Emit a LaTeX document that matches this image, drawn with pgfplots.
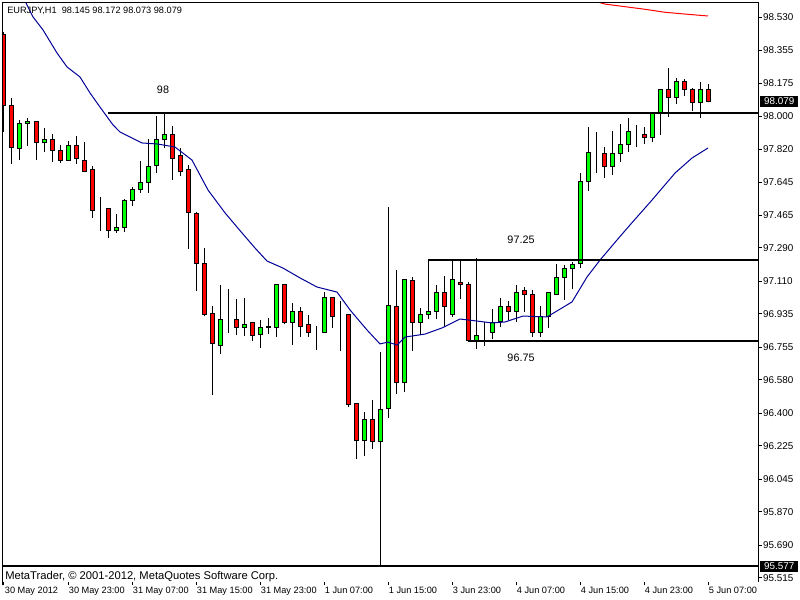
\documentclass[border=0pt]{standalone}
\usepackage{fontspec}
\setmainfont{Liberation Sans}
\usepackage{pgfplots}
\usepackage{pgfplotstable}
\pgfplotsset{compat=1.18}
\definecolor{mtgreen}{RGB}{0,255,0}
\definecolor{mtred}{RGB}{255,0,0}
\definecolor{mtblue}{RGB}{0,0,150}
\newcommand\mtfont{\fontsize{6.9pt}{8pt}\selectfont}
\newcommand\pfont{\fontsize{7.4pt}{8.5pt}\selectfont}
\newcommand\objfont{\fontsize{8.1pt}{9.5pt}\selectfont}
\newcommand\cfont{\fontsize{8.4pt}{9.8pt}\selectfont}

\pgfplotstableread{
j o h l c
0 98.436 98.452 97.914 98.059
1 98.054 98.097 97.742 97.828
2 97.823 97.979 97.763 97.962
3 97.962 97.989 97.839 97.973
4 97.973 97.973 97.763 97.855
5 97.855 97.936 97.806 97.876
6 97.876 97.903 97.753 97.812
7 97.817 97.844 97.747 97.763
8 97.763 97.866 97.758 97.844
9 97.844 97.892 97.742 97.769
10 97.763 97.860 97.699 97.704
11 97.710 97.731 97.451 97.494
12 97.494 97.564 97.382 97.494
13 97.500 97.500 97.344 97.382
14 97.382 97.473 97.371 97.398
15 97.398 97.554 97.376 97.543
16 97.543 97.618 97.516 97.607
17 97.607 97.758 97.586 97.640
18 97.645 97.876 97.586 97.726
19 97.736 98.000 97.693 97.876
20 97.876 98.016 97.828 97.903
21 97.903 97.946 97.656 97.769
22 97.785 97.828 97.677 97.704
23 97.710 97.736 97.285 97.479
24 97.473 97.484 97.059 97.204
25 97.204 97.290 96.924 96.930
26 96.935 96.978 96.499 96.774
27 96.768 97.091 96.720 96.908
28 96.908 97.070 96.833 96.908
29 96.908 97.016 96.822 96.865
30 96.865 97.021 96.817 96.881
31 96.887 96.892 96.790 96.822
32 96.827 96.903 96.752 96.860
33 96.860 96.913 96.827 96.870
34 96.865 97.096 96.811 97.091
35 97.091 97.096 96.881 96.887
36 96.887 96.994 96.768 96.951
37 96.951 96.973 96.811 96.870
38 96.876 96.930 96.811 96.838
39 96.843 96.870 96.741 96.843
40 96.838 97.053 96.838 97.026
41 97.026 97.026 96.860 96.919
42 96.919 97.005 96.735 96.919
43 96.930 96.930 96.435 96.446
44 96.456 96.456 96.155 96.257
45 96.257 96.408 96.171 96.365
46 96.365 96.472 96.209 96.247
47 96.247 96.731 95.577 96.419
48 96.424 97.511 96.376 96.983
49 96.978 97.172 96.505 96.569
50 96.569 97.118 96.515 97.118
51 97.113 97.134 96.736 96.887
52 96.887 96.967 96.822 96.930
53 96.930 97.225 96.908 96.951
54 96.946 97.091 96.908 97.048
55 97.053 97.139 96.865 96.973
56 96.930 97.225 96.919 97.123
57 97.107 97.225 97.016 97.091
58 97.091 97.107 96.790 96.790
59 96.790 97.236 96.747 96.817
60 96.822 96.892 96.763 96.822
61 96.833 96.962 96.800 96.887
62 96.892 97.021 96.865 96.973
63 96.973 97.005 96.903 96.946
64 96.946 97.091 96.892 97.053
65 97.059 97.080 96.946 97.042
66 97.042 97.064 96.811 96.833
67 96.833 96.978 96.811 96.919
68 96.924 97.053 96.860 97.048
69 97.042 97.204 97.042 97.134
70 97.134 97.199 97.010 97.182
71 97.182 97.215 97.070 97.199
72 97.204 97.693 97.182 97.650
73 97.650 97.941 97.597 97.806
74 97.806 97.914 97.693 97.806
75 97.801 97.833 97.667 97.726
76 97.731 97.919 97.683 97.801
77 97.801 97.957 97.753 97.849
78 97.849 97.989 97.806 97.914
79 97.914 97.952 97.833 97.914
80 97.898 97.941 97.849 97.887
81 97.887 98.011 97.860 98.011
82 98.011 98.140 97.898 98.140
83 98.140 98.258 97.995 98.102
84 98.102 98.204 98.065 98.183
85 98.183 98.199 98.108 98.145
86 98.145 98.151 98.027 98.075
87 98.075 98.183 97.989 98.140
88 98.145 98.172 98.073 98.079
}\candles

\pgfplotstableread{
j p
2.25 98.651
3.625 98.533
4.875 98.463
6.625 98.339
7.875 98.264
9.5 98.210
10.75 98.124
12 98.048
13.625 97.952
14.5 97.914
15.75 97.887
17.25 97.855
19.25 97.849
21.375 97.833
23.5 97.763
25.5 97.602
27.625 97.479
29.75 97.371
31.375 97.290
32.875 97.220
34.875 97.182
37 97.129
39.125 97.080
41.625 97.053
43.25 96.957
45.375 96.849
47 96.774
48 96.784
49.125 96.768
50.125 96.811
52.625 96.827
54.75 96.860
57 96.908
58 96.903
61 96.887
62.625 96.892
64.875 96.924
67.875 96.919
71 97.000
72.875 97.134
74.5 97.225
76.625 97.333
78.25 97.414
81 97.548
83.875 97.693
86 97.774
88 97.828
}\maslow

\pgfplotstableread{
j p
74.25 98.613
75.125 98.602
77.625 98.588
80.125 98.574
82.625 98.558
85.5 98.547
88 98.538
}\malong

\pgfplotsset{mtframe/.style={at={(0,0)}, anchor=south west, scale only axis,
  width=567pt, height=434.25pt,
  xmin=-0.1625, xmax=94.3375, ymin=95.4934, ymax=98.6079,
  clip mode=individual}}

\begin{document}
\begin{tikzpicture}
% layer 1: ticks, labels, wicks
\begin{axis}[mtframe,
  axis x line*=bottom, axis y line*=right, axis line style={draw=none},
  xtick={0,8,...,88},
  xticklabels={30 May 2012,30 May 23:00,31 May 07:00,31 May 15:00,31 May 23:00,1 Jun 07:00,1 Jun 15:00,3 Jun 23:00,4 Jun 07:00,4 Jun 15:00,4 Jun 23:00,5 Jun 07:00},
  ytick={95.515,95.690,95.870,96.045,96.225,96.400,96.580,96.755,96.935,97.110,97.290,97.465,97.645,97.820,98.000,98.175,98.355,98.530},
  yticklabels={95.515,95.690,95.870,96.045,96.225,96.400,96.580,96.755,96.935,97.110,97.290,97.465,97.645,97.820,98.000,98.175,98.355,98.530},
  tick align=outside, major tick length=2.6pt,
  tick style={black, line width=0.75pt},
  xticklabel style={anchor=north west, inner sep=0pt, xshift=0.5pt, yshift=-1.2pt, font=\mtfont},
  yticklabel style={anchor=west, inner sep=0pt, xshift=0.5pt, font=\pfont},
]
\addplot[only marks, mark=*, mark size=0pt, mark options={draw=none, fill=none},
  error bars/.cd, y dir=plus, y explicit, error mark=none,
  error bar style={draw=black, line width=0.75pt}]
  table[x=j, y=l, y error expr=\thisrow{h}-\thisrow{l}] {\candles};
\end{axis}
% layer 2: candle bodies
\begin{axis}[mtframe, hide axis, ybar stacked, bar width=0.5]
\addplot[draw=none, fill=none] table[x=j, y expr={min(\thisrow{o},\thisrow{c})}] {\candles};
\addplot[draw=black, fill=mtgreen, line width=0.75pt] table[x=j, y expr={max(\thisrow{c}-\thisrow{o},0)}] {\candles};
\addplot[draw=black, fill=mtred, line width=0.75pt] table[x=j, y expr={max(\thisrow{o}-\thisrow{c},0)}] {\candles};
\end{axis}
% layer 3: indicators, objects, texts
\begin{axis}[mtframe, hide axis]
\addplot[mtred, line width=0.75pt] table[x=j, y=p] {\malong};
\addplot[mtblue, line width=0.75pt] table[x=j, y=p] {\maslow};
\addplot[black, line width=1.5pt] coordinates {(13,98.016) (95,98.016)};
\addplot[black, line width=1.5pt] coordinates {(53,97.225) (95,97.225)};
\addplot[black, line width=1.5pt] coordinates {(58,96.790) (95,96.790)};
\addplot[black, line width=1.5pt] coordinates {(-1,95.577) (95,95.577)};
\draw[black, line width=0.75pt] (rel axis cs:0,-0.006) -- (rel axis cs:0,1) -- (rel axis cs:1,1) -- (rel axis cs:1,0);
\node[font=\objfont, inner sep=0pt] at (axis cs:19.875,98.140) {98};
\node[font=\objfont, inner sep=0pt] at (axis cs:64.625,97.333) {97.25};
\node[font=\objfont, inner sep=0pt] at (axis cs:64.625,96.698) {96.75};
\node[font=\mtfont, anchor=base west, inner sep=0pt] at (axis cs:0.375,98.554) {EURJPY,H1\ \ 98.145 98.172 98.073 98.079};
\node[font=\cfont, anchor=base west, inner sep=0pt] at (axis cs:0.125,95.507) {MetaTrader, © 2001-2012, MetaQuotes Software Corp.};
\node[anchor=west, fill=black, text=white, font=\pfont, inner sep=0pt, minimum width=28.5pt, minimum height=8.6pt, xshift=1pt] at (axis cs:94.3375,98.079) {98.079};
\node[anchor=west, fill=black, text=white, font=\pfont, inner sep=0pt, minimum width=28.5pt, minimum height=8.6pt, xshift=1pt] at (axis cs:94.3375,95.577) {95.577};
\end{axis}
\pgfresetboundingbox
\useasboundingbox (-2.025pt,-13.5pt) rectangle (597.975pt,436.5pt);
\end{tikzpicture}
\end{document}
